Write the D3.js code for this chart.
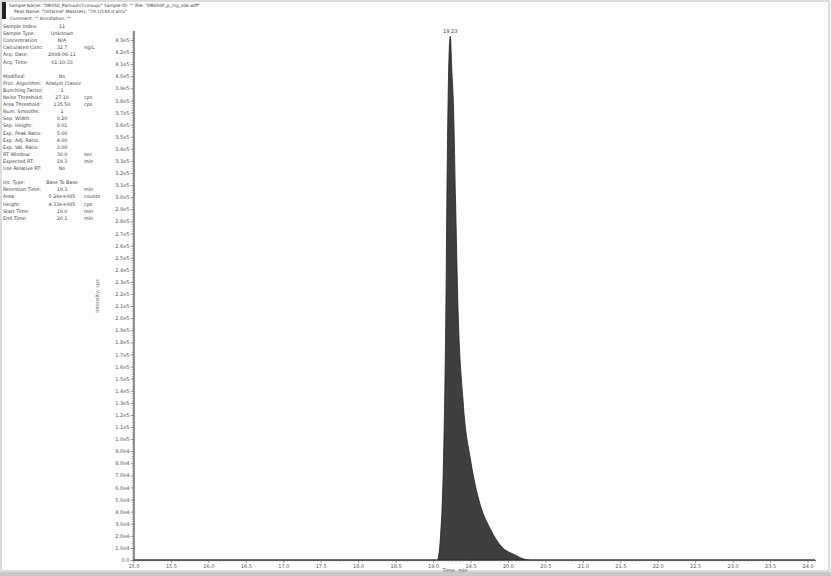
<!DOCTYPE html>
<html><head><meta charset="utf-8">
<script src="https://cdn.jsdelivr.net/npm/d3@7"></script>
<style>
body{margin:0;background:#fff;}
svg text{font-family:"DejaVu Sans",Arial,sans-serif;}
</style></head>
<body><svg id="c" width="831" height="576"></svg>
<script>
// ---- data ----
const peakTimes = [15.0, 19.0, 19.06, 19.07, 19.10, 19.14, 19.17, 19.19, 19.21, 19.23, 19.25, 19.27, 19.30, 19.33, 19.40, 19.50, 19.61, 19.77, 19.90, 20.10, 20.20, 20.30, 24.1];
const peakIntensity = [0, 0, 0, 2000, 20000, 83000, 200000, 330000, 410000, 433000, 405000, 380000, 298000, 215000, 132000, 83000, 50000, 25000, 12000, 4000, 1000, 0, 0];
const peakLabel = "19.23";
const peakLabelTime = 19.23;
const peakLabelValue = 433000;

const xTicks = [15.0, 15.5, 16.0, 16.5, 17.0, 17.5, 18.0, 18.5, 19.0, 19.5, 20.0, 20.5, 21.0, 21.5, 22.0, 22.5, 23.0, 23.5, 24.0];
const yTicks = [0, 10000, 20000, 30000, 40000, 50000, 60000, 70000, 80000, 90000,
  100000, 110000, 120000, 130000, 140000, 150000, 160000, 170000, 180000, 190000,
  200000, 210000, 220000, 230000, 240000, 250000, 260000, 270000, 280000, 290000,
  300000, 310000, 320000, 330000, 340000, 350000, 360000, 370000, 380000, 390000,
  400000, 410000, 420000, 430000];

const headerLines = [
  'Sample Name: "DR050_Pamuuh(1cmoup)"  Sample ID: ""  File: "DR050F_p_mg_s06.wiff"',
  'Peak Name: "Ostarine"  Mass(es): "29.2/144.0 amu"',
  'Comment: ""  Annotation: ""'
];
const infoLabels = ["Sample Index:", "Sample Type:", "Concentration:", "Calculated Conc:", "Acq. Date:", "Acq. Time:", "",
  "Modified:", "Proc. Algorithm:", "Bunching Factor:", "Noise Threshold:", "Area Threshold:", "Num. Smooths:", "Sep. Width:", "Sep. Height:", "Exp. Peak Ratio:", "Exp. Adj. Ratio:", "Exp. Val. Ratio:", "RT Window:", "Expected RT:", "Use Relative RT:", "",
  "Int. Type:", "Retention Time:", "Area:", "Height:", "Start Time:", "End Time:"];
const infoValues = ["11", "Unknown", "N/A", "32.7", "2008-06-11", "01:10:33", "",
  "No", "Analyst Classic", "1", "27.10", "135.50", "1", "0.20", "0.01", "5.00", "4.00", "3.00", "30.0", "19.3", "No", "",
  "Base To Base", "19.3", "5.26e+005", "4.33e+005", "19.0", "20.1"];
const infoUnits = ["", "", "", "ng/L", "", "", "",
  "", "", "", "cps", "cps", "", "", "", "", "", "", "sec", "min", "", "",
  "", "min", "counts", "cps", "min", "min"];

// ---- drawing ----
const svg = d3.select("#c");
const W = 831, H = 576;
svg.append("rect").attr("x",0).attr("y",0).attr("width",W).attr("height",H).attr("fill","#fdfdfd");
svg.append("rect").attr("x",1).attr("y",1).attr("width",W-3).attr("height",H-6).attr("fill","none").attr("stroke","#bbb").attr("stroke-width",1);
svg.append("rect").attr("x",0).attr("y",H-4).attr("width",W).attr("height",4).attr("fill","#c9c9c9");

const x = d3.scaleLinear().domain([15.0, 24.1]).range([133.5, 815]);
const y = d3.scaleLinear().domain([0, 438000]).range([560, 30.3]);

// header
svg.append("rect").attr("x",2).attr("y",2).attr("width",4).attr("height",17).attr("fill","#222");
const hx = [9, 14, 10];
headerLines.forEach((t,i)=>{
  svg.append("text").attr("x",hx[i]).attr("y",6.5+i*6.6).attr("font-size",4.4).attr("fill","#444").text(t);
});

// info panel
infoLabels.forEach((lab,i)=>{
  if(!lab) return;
  const yy = 28 + i*7.1;
  const lt = svg.append("text").attr("x",3).attr("y",yy).attr("font-size",4.8).attr("fill","#444").text(lab);
  const lEnd = 3 + lt.node().getComputedTextLength();
  const vt = svg.append("text").attr("y",yy).attr("font-size",4.8).attr("fill","#444").text(infoValues[i]);
  const vw = vt.node().getComputedTextLength();
  vt.attr("x", Math.max(62 - vw/2, lEnd + 4));
  if(infoUnits[i]) svg.append("text").attr("x",84).attr("y",yy).attr("font-size",4.8).attr("fill","#444").text(infoUnits[i]);
});

// peak
const area = d3.area().x((d,i)=>x(peakTimes[i])).y0(y(0)).y1(d=>y(d)).curve(d3.curveMonotoneX);
svg.append("path").datum(peakIntensity).attr("d",area).attr("fill","#3f3f3f").attr("stroke","#1e1e1e").attr("stroke-width",0.8);

svg.append("text").attr("x",x(peakLabelTime)).attr("y",y(peakLabelValue)-3).attr("text-anchor","middle")
  .attr("font-size",5).attr("fill","#444").text(peakLabel);

// axes
const fmtY = v => v===0 ? "0.0" : d3.format(".1e")(v).replace("+","");
const yAxis = svg.append("g").attr("transform","translate(133.5,0)")
  .call(d3.axisLeft(y).tickValues(yTicks).tickFormat(fmtY).tickSize(3).tickSizeOuter(0));
const yMinor = svg.append("g").attr("transform","translate(133.5,0)")
  .call(d3.axisLeft(y).tickValues(d3.range(0, 438000, 2000)).tickFormat("").tickSize(1.5).tickSizeOuter(0));
const xAxis = svg.append("g").attr("transform","translate(0,560)")
  .call(d3.axisBottom(x).tickValues(xTicks).tickFormat(d3.format(".1f")).tickSize(3).tickSizeOuter(0));
const xMinor = svg.append("g").attr("transform","translate(0,560)")
  .call(d3.axisBottom(x).tickValues(d3.range(15.0, 24.1, 0.05)).tickFormat("").tickSize(1.5).tickSizeOuter(0));
[yAxis,yMinor,xAxis,xMinor].forEach(g=>{
  g.selectAll("path").attr("stroke","#555").attr("stroke-width",0.8);
  g.selectAll("line").attr("stroke","#666").attr("stroke-width",0.6);
  g.selectAll("text").attr("font-size",5).attr("fill","#555");
});
yAxis.selectAll("text").attr("x",-4);
xAxis.selectAll("text").attr("y",4);

svg.append("text").attr("x",455).attr("y",571.5).attr("text-anchor","middle").attr("font-size",5).attr("fill","#555").text("Time, min");
svg.append("text").attr("transform","translate(99,296) rotate(-90)").attr("text-anchor","middle").attr("font-size",5).attr("fill","#666").text("Intensity, cps");
</script></body></html>
